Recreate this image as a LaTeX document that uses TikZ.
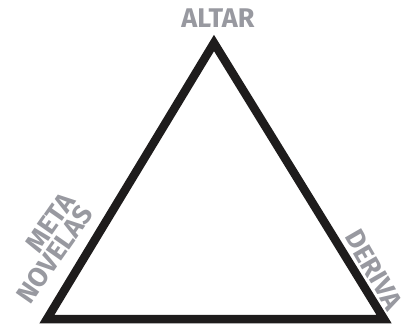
\documentclass[tikz,border=0pt]{standalone}
\usepackage{fontspec}
\setmainfont{Fira Sans}
\usepackage{tikz}
\usetikzlibrary{positioning}
\definecolor{labelgrey}{RGB}{152, 153, 160}
\definecolor{edgeblack}{RGB}{30, 28, 28}

\begin{document}
\begin{tikzpicture}[
    x=1pt, y=-1pt,
    cornerlabel/.style={
        text=labelgrey,
        font=\fontsize{27}{22}\selectfont\bfseries,
        inner sep=0pt
    },
    edge/.style={
        draw=edgeblack,
        line width=8.5pt,
        line join=miter
    }
]
\useasboundingbox (0,0) rectangle (405,332);

% ==================== TRIANGLE ====================
\coordinate (apex) at (214, 43);
\coordinate (leftcorner) at (47, 319);
\coordinate (rightcorner) at (384, 319);

\draw [edge] (apex) -- (leftcorner) -- (rightcorner) -- cycle;

% ==================== LABELS ====================
\node (altar) [cornerlabel] at (218, 18) {ALTAR};
\node (metanovelas) [cornerlabel, align=right, rotate=55] at (46, 248) {META\\NOVELAS};
\node (deriva) [cornerlabel, rotate=-60] at (374, 270) {DERIVA};

\end{tikzpicture}
\end{document}
